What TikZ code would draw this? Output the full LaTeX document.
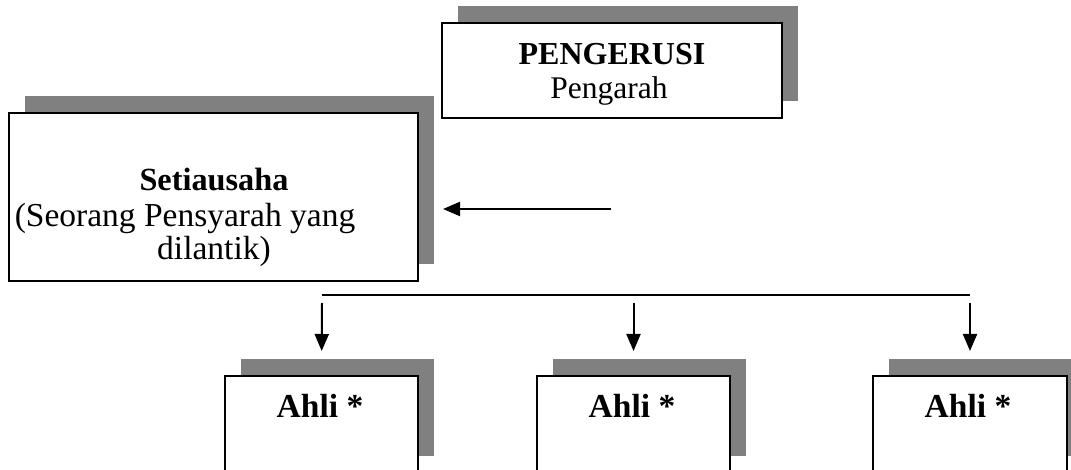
\documentclass[tikz,border=0pt]{standalone}
\usepackage{fontspec}
\setmainfont{Liberation Serif}
\usetikzlibrary{shadows,arrows.meta}
\definecolor{shadowgray}{HTML}{808080}
\begin{document}
\begin{tikzpicture}[x=1pt,y=-1pt,
  box/.style={draw=black,line width=2pt,fill=white,inner sep=0pt,
    drop shadow={shadow xshift=16pt,shadow yshift=17pt,fill=shadowgray,opacity=1}},
  txt/.style={anchor=base,inner sep=0pt},
  conn/.style={line width=2pt},
  arr/.style={line width=2pt,-{Triangle[length=17pt,width=14pt]}}]
\useasboundingbox (0,0) rectangle (1071,470);
% boxes
\node[box,minimum width=340pt,minimum height=95pt] (peng) at (612,70.5) {};
\node[txt,font=\fontsize{32}{36}\selectfont\bfseries] (pengt1) at (612,65) {PENGERUSI};
\node[txt,font=\fontsize{31.5}{36}\selectfont] (pengt2) at (609,99) {Pengarah};
\node[box,minimum width=409pt,minimum height=168pt] (set) at (213.5,197) {};
\node[txt,font=\fontsize{32.3}{36}\selectfont\bfseries] (sett1) at (214,191) {Setiausaha};
\node[txt,font=\fontsize{33.5}{36}\selectfont] (sett2) at (185,227) {(Seorang Pensyarah yang};
\node[txt,font=\fontsize{33.5}{36}\selectfont] (sett3) at (214,260) {dilantik)};
\node[box,minimum width=193pt,minimum height=97pt] (a1) at (321.5,424.5) {};
\node[box,minimum width=193pt,minimum height=97pt] (a2) at (633.5,424.5) {};
\node[box,minimum width=194pt,minimum height=97pt] (a3) at (970,424.5) {};
\node[txt,font=\fontsize{33.5}{36}\selectfont\bfseries] (a1t) at (320,417) {Ahli *};
\node[txt,font=\fontsize{33.5}{36}\selectfont\bfseries] (a2t) at (632,417) {Ahli *};
\node[txt,font=\fontsize{33.5}{36}\selectfont\bfseries] (a3t) at (968,417) {Ahli *};
% connectors
\coordinate (sarr) at (611,209);
\draw[arr,shorten >=24pt] (sarr) -- (sarr -| set.east);
\coordinate (h1) at (322,295);
\coordinate (h3) at (970,295);
\draw[conn] (h1) -- (h3);
\coordinate (t1) at (322,303);
\coordinate (t2) at (633.5,303);
\coordinate (t3) at (970,303);
\draw[arr,shorten >=24pt] (t1) -- (a1.north);
\draw[arr,shorten >=24pt] (t2) -- (a2.north);
\draw[arr,shorten >=24pt] (t3) -- (a3.north);
\end{tikzpicture}
\end{document}
